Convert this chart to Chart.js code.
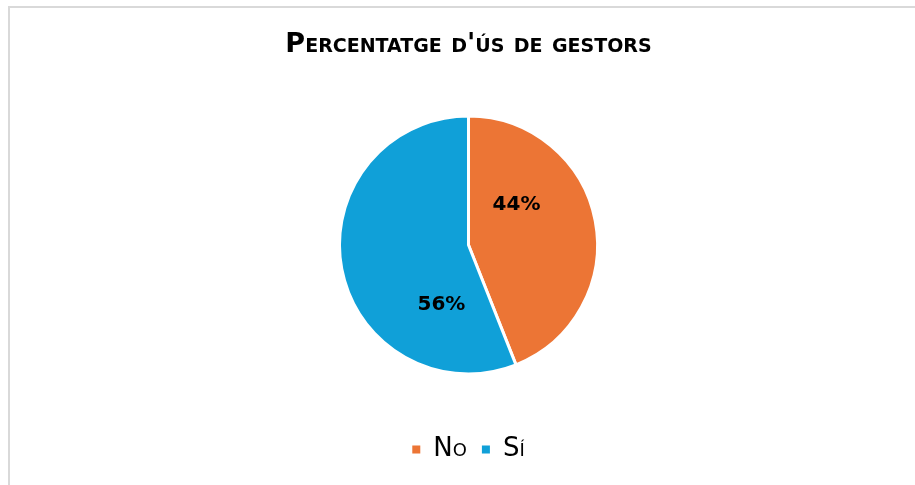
<!DOCTYPE html>
<html>
<head>
<meta charset="utf-8">
<script src="https://cdn.jsdelivr.net/npm/chart.js@4"></script>
<style>
  html, body { margin: 0; padding: 0; background: #fff; }
  #wrap { position: relative; width: 915px; height: 485px; overflow: hidden; }
  #frame { position: absolute; left: 8px; top: 6px; width: 1000px; height: 1000px;
           border-left: 2px solid #d9d9d9; border-top: 2px solid #d9d9d9; }
  canvas { position: absolute; left: 0; top: 0; }
</style>
</head>
<body>
<div id="wrap">
  <div id="frame"></div>
  <canvas id="chart" width="915" height="485"></canvas>
</div>
<script>
// dades
const categories = ['No', 'Sí'];
const values = [44, 56];
const colors = ['#EC7535', '#10A0D8'];
const chartTitle = "Percentatge d'ús de gestors";

const FONT = "'DejaVu Sans'";

// etiquetes de percentatge dins de cada sector
const pctLabels = {
  id: 'pctLabels',
  afterDatasetsDraw(chart, args, opts) {
    const ctx = chart.ctx;
    const meta = chart.getDatasetMeta(0);
    const total = values.reduce((a, b) => a + b, 0);
    ctx.save();
    ctx.font = opts.font;
    ctx.fillStyle = '#000';
    ctx.textAlign = 'center';
    ctx.textBaseline = 'middle';
    meta.data.forEach((arc, i) => {
      const r = arc.outerRadius;
      const off = opts.offsets[i];
      const txt = Math.round(values[i] / total * 100) + '%';
      ctx.fillText(txt, arc.x + off[0] * r, arc.y + off[1] * r);
    });
    ctx.restore();
  }
};

new Chart(document.getElementById('chart'), {
  type: 'pie',
  data: {
    labels: categories,
    datasets: [{
      data: values,
      backgroundColor: colors,
      borderColor: '#fff',
      borderWidth: 3,
      radius: 129
    }]
  },
  options: {
    responsive: false,
    animation: false,
    layout: { padding: { left: 22, top: 0, bottom: 12.5 } },
    plugins: {
      title: {
        display: true,
        text: chartTitle,
        color: '#000',
        font: { family: FONT, size: 27, weight: 'small-caps bold' },
        padding: { top: 29, bottom: 7 }
      },
      legend: {
        position: 'bottom',
        labels: {
          color: '#000',
          boxWidth: 8,
          boxHeight: 8,
          padding: 15,
          font: { family: FONT, size: 26, weight: 'small-caps normal' },
          generateLabels(chart) {
            const items = Chart.overrides.doughnut.plugins.legend.labels.generateLabels(chart);
            items.forEach(it => { it.lineWidth = 0; it.strokeStyle = 'rgba(0,0,0,0)'; });
            return items;
          }
        }
      },
      tooltip: { enabled: false },
      pctLabels: {
        font: "bold 20px " + FONT,
        offsets: [[0.372, -0.313], [-0.21, 0.466]]
      }
    }
  },
  plugins: [pctLabels]
});
</script>
</body>
</html>
